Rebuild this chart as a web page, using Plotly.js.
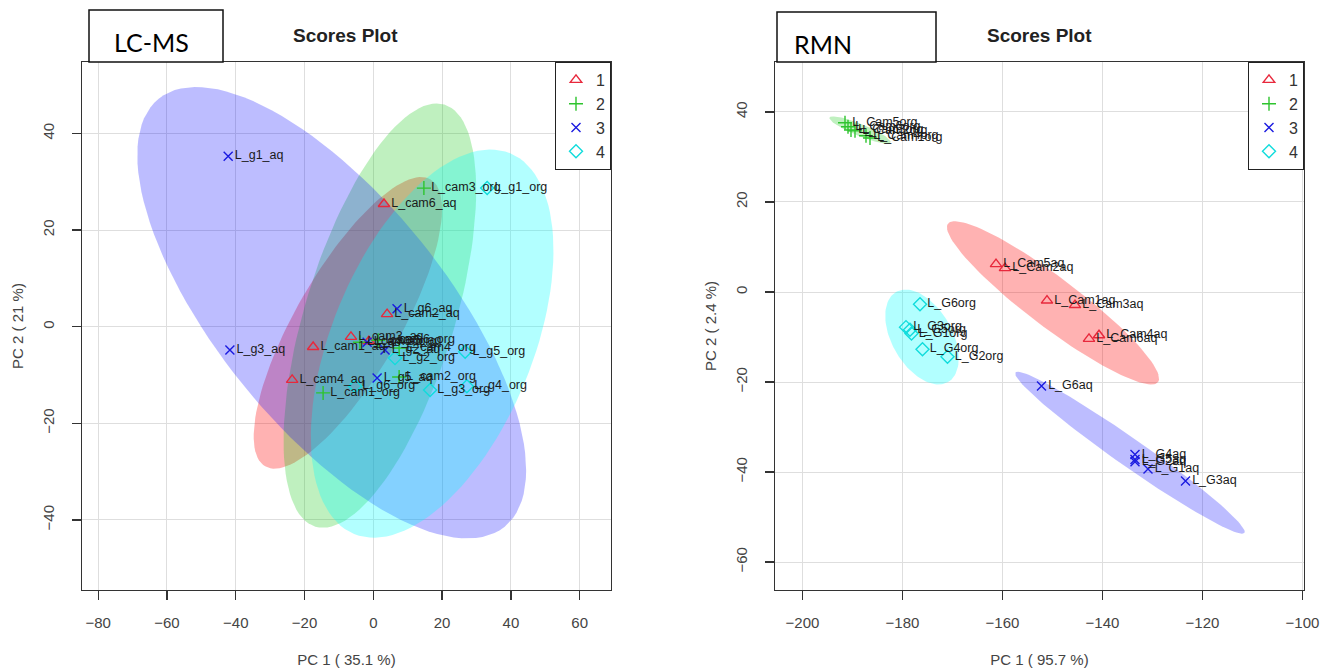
<!DOCTYPE html>
<html><head><meta charset="utf-8">
<script src="https://cdn.plot.ly/plotly-3.0.1.min.js"></script>
<style>html,body{margin:0;padding:0;background:#fff}</style>
</head><body><div id="chart" style="width:1328px;height:670px"></div>
<script>
// ---------- LC-MS scores (PC1 35.1 %, PC2 21 %) ----------
const lcNames1 = ['L_cam6_aq','L_cam2_aq','L_cam3_aq','L_cam1_aq','L_cam4_aq','L_cam5_aq'];
const lcX1 = [3.1, 4.0, -6.5, -17.5, -23.6, -1.3];
const lcY1 = [25.4, 2.6, -2.1, -4.2, -11.0, -3.0];
const lcNames2 = ['L_cam3_org','L_cam2_org','L_cam1_org','L_cam4_org','L_cam5_org','L_cam6_org'];
const lcX2 = [14.7, 7.5, -14.6, 7.5, -3.9, 1.4];
const lcY2 = [28.7, -10.4, -13.7, -4.4, -3.2, -2.8];
const lcNames3 = ['L_g1_aq','L_g3_aq','L_g6_aq','L_g5_aq','L_g2_aq','L_g4_aq'];
const lcX3 = [-42.2, -41.7, 6.9, 1.1, 3.4, -1.8];
const lcY3 = [35.3, -4.8, 3.7, -10.6, -4.8, -3.2];
const lcNames4 = ['L_g1_org','L_g5_org','L_g2_org','L_g6_org','L_g3_org','L_g4_org'];
const lcX4 = [33.1, 26.7, 6.3, -5.3, 16.5, 27.2];
const lcY4 = [28.7, -5.2, -6.5, -12.3, -13.1, -12.3];
// 95% ellipses (centre, semi-axis vectors) for groups 1..4
const lcEllCx = [-7.4, 1.9, -12.1, 17.1];
const lcEllCy = [0.8, 2.3, 2.9, -3.5];
const lcEllMajX = [24.05, 18.75, 50.3, 22.7];
const lcEllMajY = [29.7, 43.7, -44.3, 39.4];
const lcEllMinX = [13.1, 20.8, -25.8, 27.0];
const lcEllMinY = [-5.4, -4.5, -14.9, -7.9];

// ---------- RMN scores (PC1 95.7 %, PC2 2.4 %) ----------
const nmNames1 = ['L_Cam5aq','L_Cam2aq','L_Cam1aq','L_Cam3aq','L_Cam6aq','L_Cam4aq'];
const nmX1 = [-161.3, -159.5, -151.1, -145.5, -142.7, -140.7];
const nmY1 = [6.2, 5.3, -1.9, -2.9, -10.4, -9.6];
const nmNames2 = ['L_Cam5org','L_Cam6org','L_Cam3org','L_Cam2org','L_Cam4org','L_Cam1org'];
const nmX2 = [-191.5, -190.9, -190.3, -189.5, -187.3, -186.5];
const nmY2 = [37.6, 36.7, 36.0, 35.8, 34.7, 34.2];
const nmNames3 = ['L_G6aq','L_G4aq','L_G5aq','L_G2aq','L_G1aq','L_G3aq'];
const nmX3 = [-152.2, -133.5, -133.5, -133.5, -130.9, -123.4];
const nmY3 = [-20.9, -36.1, -37.2, -37.7, -39.3, -42.0];
const nmNames4 = ['L_G6org','L_G3org','L_G1org','L_G5org','L_G4org','L_G2org'];
const nmX4 = [-176.5, -179.3, -178.2, -178.5, -176.0, -171.0];
const nmY4 = [-2.7, -7.8, -9.2, -8.4, -12.7, -14.4];
const nmEllCx = [-149.9, -188.5, -134.5, -176.1];
const nmEllCy = [-2.4, 36.0, -35.7, -10.0];
const nmEllMajX = [21.0, 6.1, 22.9, 5.2];
const nmEllMajY = [-17.6, -2.75, -17.8, -10.0];
const nmEllMinX = [-3.0, -0.45, -1.6, -5.2];
const nmEllMinY = [-4.4, -1.24, -2.55, -3.33];

const groupNames = ['1','2','3','4'];
const groupColors = ['#E8283C','#2EC42E','#1A1AE0','#10DCDC'];
const ellColors = ['rgba(255,0,0,0.3)','rgba(20,200,20,0.27)','rgba(0,0,255,0.26)','rgba(0,255,255,0.3)'];
const symbols = ['triangle-up-open','cross-thin-open','x-thin-open','diamond-open'];
const symSizes = [10, 10, 9, 10];

const FONT = 'Liberation Sans, Arial, sans-serif';
const W = 1328, H = 670;

function ellipse(cx, cy, ax, ay, bx, by) {
  const xs = [], ys = [];
  for (let i = 0; i <= 120; i++) {
    const t = 2 * Math.PI * i / 120;
    xs.push(cx + ax * Math.cos(t) + bx * Math.sin(t));
    ys.push(cy + ay * Math.cos(t) + by * Math.sin(t));
  }
  return {xs, ys};
}

const traces = [];
function addPanel(xa, ya, legendId, names, xsArr, ysArr, ecx, ecy, emx, emy, enx, eny) {
  for (let g = 0; g < 4; g++) {
    const e = ellipse(ecx[g], ecy[g], emx[g], emy[g], enx[g], eny[g]);
    traces.push({x: e.xs, y: e.ys, xaxis: xa, yaxis: ya, mode: 'lines', fill: 'toself',
      fillcolor: ellColors[g], line: {width: 0, color: 'rgba(0,0,0,0)'}, showlegend: false, hoverinfo: 'skip'});
  }
  for (let g = 0; g < 4; g++) {
    traces.push({x: xsArr[g], y: ysArr[g], xaxis: xa, yaxis: ya, mode: 'markers', name: groupNames[g],
      legend: legendId, showlegend: true,
      marker: {symbol: symbols[g], size: symSizes[g], color: groupColors[g], line: {width: 1.4, color: groupColors[g]}}});
  }
  for (let g = 0; g < 4; g++) {
    traces.push({x: xsArr[g], y: ysArr[g], xaxis: xa, yaxis: ya, mode: 'markers+text', text: names[g],
      textposition: 'middle right', textfont: {size: 12.5, color: '#1a1a1a', family: FONT},
      marker: {size: symSizes[g], opacity: 0}, showlegend: false, hoverinfo: 'skip', cliponaxis: false});
  }
}
addPanel('x', 'y', 'legend', [lcNames1, lcNames2, lcNames3, lcNames4], [lcX1, lcX2, lcX3, lcX4], [lcY1, lcY2, lcY3, lcY4],
  lcEllCx, lcEllCy, lcEllMajX, lcEllMajY, lcEllMinX, lcEllMinY);
addPanel('x2', 'y2', 'legend2', [nmNames1, nmNames2, nmNames3, nmNames4], [nmX1, nmX2, nmX3, nmX4], [nmY1, nmY2, nmY3, nmY4],
  nmEllCx, nmEllCy, nmEllMajX, nmEllMajY, nmEllMinX, nmEllMinY);

const axBase = {showline: true, mirror: true, linecolor: '#333', linewidth: 1.3, ticks: 'outside', ticklen: 9,
  tickwidth: 1.3, tickcolor: '#333', showgrid: true, gridcolor: '#dedede', gridwidth: 1, zeroline: false,
  tickfont: {size: 15, color: '#444', family: FONT}, dtick: 20, tick0: 0, fixedrange: true};
const yDom = [1 - 590 / H, 1 - 62 / H];
const legBase = {yanchor: 'top', xanchor: 'right', y: yDom[1], bgcolor: '#fff', bordercolor: '#222', borderwidth: 1,
  font: {size: 16, color: '#333', family: FONT}, itemwidth: 30, tracegroupgap: 0};
const titleFont = {size: 15, color: '#444', family: FONT};

const layout = {
  width: W, height: H, margin: {l: 0, r: 0, t: 0, b: 0}, paper_bgcolor: '#fff', plot_bgcolor: '#fff',
  showlegend: true, font: {family: FONT},
  xaxis: Object.assign({}, axBase, {domain: [82 / W, 611 / W], range: [-84.7, 69.1], anchor: 'y',
    ticklabelstandoff: 10, title: {text: 'PC 1 ( 35.1 %)', font: titleFont, standoff: 24}}),
  yaxis: Object.assign({}, axBase, {domain: yDom, range: [-54.5, 54.8], anchor: 'x', tickangle: -90,
    ticklabelstandoff: 12, title: {text: 'PC 2 ( 21 %)', font: titleFont, standoff: 12}}),
  xaxis2: Object.assign({}, axBase, {domain: [775 / W, 1304 / W], range: [-205.5, -99.7], anchor: 'y2',
    ticklabelstandoff: 10, title: {text: 'PC 1 ( 95.7 %)', font: titleFont, standoff: 24}}),
  yaxis2: Object.assign({}, axBase, {domain: yDom, range: [-66.2, 51.1], anchor: 'x2', tickangle: -90,
    ticklabelstandoff: 12, title: {text: 'PC 2 ( 2.4 %)', font: titleFont, standoff: 12}}),
  legend: Object.assign({}, legBase, {x: 611 / W}),
  legend2: Object.assign({}, legBase, {x: 1304 / W}),
  shapes: [
    {type: 'rect', xref: 'paper', yref: 'paper', x0: 89 / W, x1: 223 / W, y0: 1 - 62 / H, y1: 1 - 10 / H,
      line: {color: '#111', width: 1.5}, fillcolor: '#fff', layer: 'above'},
    {type: 'rect', xref: 'paper', yref: 'paper', x0: 777 / W, x1: 936 / W, y0: 1 - 62 / H, y1: 1 - 12 / H,
      line: {color: '#111', width: 1.5}, fillcolor: '#fff', layer: 'above'}
  ],
  annotations: [
    {text: 'LC-MS', xref: 'paper', yref: 'paper', x: 151 / W, y: 1 - 42 / H, xanchor: 'center', yanchor: 'middle',
      showarrow: false, font: {size: 25, color: '#000', family: 'Lato, Open Sans, sans-serif'}},
    {text: 'RMN', xref: 'paper', yref: 'paper', x: 823 / W, y: 1 - 44 / H, xanchor: 'center', yanchor: 'middle',
      showarrow: false, font: {size: 25, color: '#000', family: 'Lato, Open Sans, sans-serif'}},
    {text: '<b>Scores Plot</b>', xref: 'paper', yref: 'paper', x: 345 / W, y: 1 - 35 / H, xanchor: 'center', yanchor: 'middle',
      showarrow: false, font: {size: 19, color: '#222', family: FONT}},
    {text: '<b>Scores Plot</b>', xref: 'paper', yref: 'paper', x: 1039 / W, y: 1 - 35 / H, xanchor: 'center', yanchor: 'middle',
      showarrow: false, font: {size: 19, color: '#222', family: FONT}}
  ]
};

Plotly.newPlot('chart', traces, layout, {displayModeBar: false, staticPlot: true});
</script>
</body></html>
